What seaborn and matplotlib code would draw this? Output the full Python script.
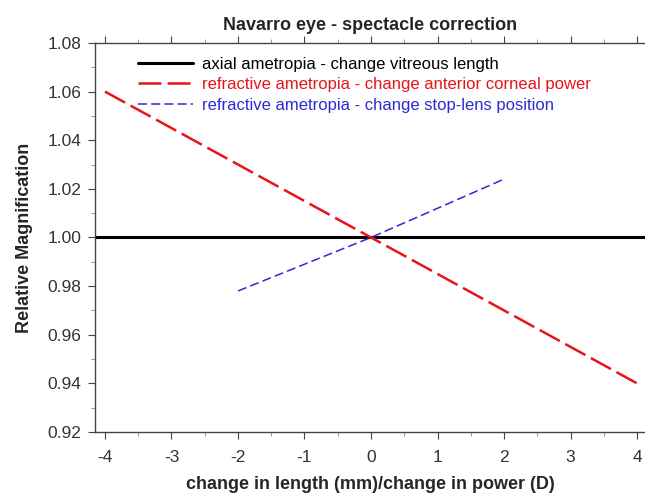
import matplotlib
matplotlib.use("Agg")
import matplotlib.pyplot as plt
import seaborn as sns
from matplotlib.ticker import MultipleLocator, FormatStrFormatter

sns.set_style("ticks")
plt.rcParams['font.family'] = ['Liberation Sans', 'DejaVu Sans']
plt.rcParams['axes.unicode_minus'] = False
plt.rcParams['lines.scale_dashes'] = False

axial_x = [-4.15, 4.12]
axial_y = [1.0, 1.0]
corneal_x = [-4, 4]
corneal_y = [1.06, 0.94]
stop_x = [-2, 0, 2]
stop_y = [0.978, 1.0, 1.024]

labels = ["axial ametropia - change vitreous length",
          "refractive ametropia - change anterior corneal power",
          "refractive ametropia - change stop-lens position"]
colors = ["black", "#e8141a", "#2b2bd6"]

fig = plt.figure(figsize=(6.45, 4.95), dpi=100)
ax = fig.add_axes([0.1473, 0.1273, 0.8527, 0.7859])

sns.lineplot(x=axial_x, y=axial_y, ax=ax, color=colors[0], lw=2.2, label=labels[0])
sns.lineplot(x=corneal_x, y=corneal_y, ax=ax, color=colors[1], lw=1.8, label=labels[1])
sns.lineplot(x=stop_x, y=stop_y, ax=ax, color=colors[2], lw=1.1, label=labels[2])
ax.lines[1].set_dashes([16.5, 4.5])
ax.lines[2].set_dashes([6.5, 3])

ax.set_xlim(-4.15, 4.12)
ax.set_ylim(0.92, 1.08)
ax.xaxis.set_major_locator(MultipleLocator(1))
ax.xaxis.set_minor_locator(MultipleLocator(0.5))
ax.yaxis.set_major_locator(MultipleLocator(0.02))
ax.yaxis.set_minor_locator(MultipleLocator(0.01))
ax.yaxis.set_major_formatter(FormatStrFormatter('%.2f'))
ax.tick_params(axis='both', which='major', direction='out', length=5, labelsize=12.5,
               color='#444444', labelcolor='#333333', pad=5)
ax.tick_params(axis='x', which='major', pad=8)
ax.tick_params(axis='both', which='minor', direction='out', length=3, color='#888888')
ax.tick_params(axis='x', top=True, which='both')
sns.despine(ax=ax, right=True, top=False)
for s in ax.spines.values():
    s.set_color('#444444')
    s.set_linewidth(1.0)

ax.set_title("Navarro eye - spectacle correction", fontsize=13, fontweight='bold', pad=9)
ax.set_xlabel("change in length (mm)/change in power (D)", fontsize=13, fontweight='bold', labelpad=8)
ax.set_ylabel("Relative Magnification", fontsize=13, fontweight='bold', labelpad=10)

leg = ax.legend(loc='upper left', bbox_to_anchor=(0.06, 0.99), frameon=False, fontsize=12,
                handlelength=3.3, handletextpad=0.55, labelspacing=0.32, borderaxespad=0.2)
for t, c in zip(leg.get_texts(), colors):
    t.set_color(c)

fig.savefig("out.png", dpi=100)
